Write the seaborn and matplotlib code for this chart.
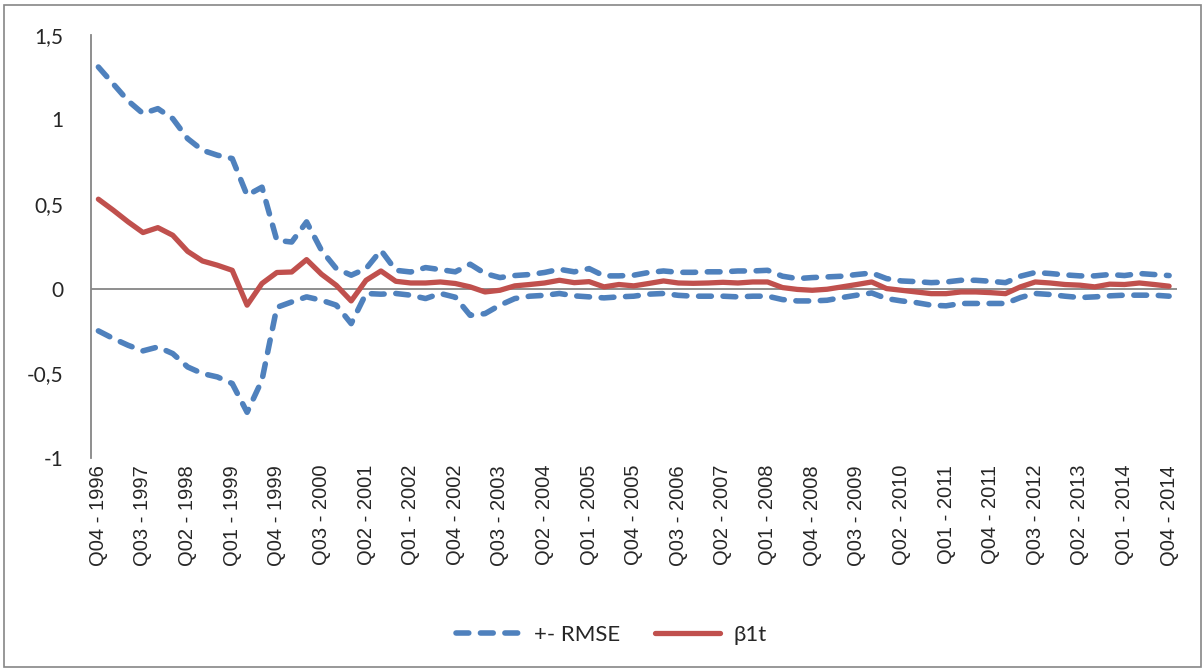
#!/usr/bin/env python3
import pandas as pd
import seaborn as sns
import matplotlib.pyplot as plt
from matplotlib.patches import Rectangle

# quarters Q4 1996 .. Q4 2014
quarters = [f"Q0{q} - {y}" for y in range(1996, 2015) for q in range(1, 5)][3:]

beta = [0.529, 0.464, 0.395, 0.332, 0.361, 0.316, 0.221, 0.164, 0.139, 0.109,
        -0.097, 0.031, 0.096, 0.099, 0.172, 0.086, 0.020, -0.072, 0.050, 0.105,
        0.044, 0.034, 0.034, 0.040, 0.031, 0.011, -0.019, -0.009, 0.017, 0.025,
        0.034, 0.050, 0.036, 0.042, 0.011, 0.025, 0.017, 0.031, 0.046, 0.034,
        0.032, 0.034, 0.038, 0.034, 0.040, 0.040, 0.007, -0.004, -0.009, -0.003,
        0.011, 0.025, 0.040, 0.001, -0.009, -0.019, -0.029, -0.029, -0.019, -0.019,
        -0.023, -0.029, 0.011, 0.040, 0.034, 0.025, 0.021, 0.011, 0.027, 0.025,
        0.034, 0.025, 0.015]

upper = [1.31, 1.21, 1.11, 1.035, 1.064, 1.005, 0.887, 0.818, 0.789, 0.769,
         0.552, 0.60, 0.286, 0.276, 0.395, 0.227, 0.119, 0.080, 0.119, 0.227,
         0.109, 0.099, 0.125, 0.113, 0.100, 0.145, 0.090, 0.066, 0.078, 0.084,
         0.096, 0.115, 0.100, 0.119, 0.076, 0.076, 0.080, 0.096, 0.105, 0.097,
         0.097, 0.100, 0.100, 0.105, 0.105, 0.109, 0.074, 0.060, 0.066, 0.070,
         0.074, 0.084, 0.093, 0.060, 0.046, 0.042, 0.036, 0.040, 0.050, 0.050,
         0.044, 0.036, 0.074, 0.096, 0.090, 0.082, 0.076, 0.076, 0.084, 0.078,
         0.090, 0.084, 0.078]

lower = [-0.249, -0.294, -0.334, -0.367, -0.344, -0.383, -0.462, -0.501, -0.521, -0.560,
         -0.730, -0.540, -0.110, -0.078, -0.048, -0.068, -0.097, -0.206, -0.028, -0.032,
         -0.028, -0.038, -0.058, -0.028, -0.050, -0.157, -0.147, -0.097, -0.058, -0.044,
         -0.039, -0.028, -0.042, -0.048, -0.054, -0.048, -0.044, -0.032, -0.028, -0.039,
         -0.044, -0.044, -0.044, -0.048, -0.044, -0.044, -0.064, -0.072, -0.072, -0.068,
         -0.052, -0.038, -0.025, -0.058, -0.072, -0.082, -0.097, -0.101, -0.087, -0.087,
         -0.087, -0.087, -0.052, -0.028, -0.034, -0.044, -0.052, -0.048, -0.042, -0.038,
         -0.038, -0.038, -0.044]

y_ticks = [-1, -0.5, 0, 0.5, 1, 1.5]
y_tick_labels = ["-1", "-0,5", "0", "0,5", "1", "1,5"]

BLUE = "#4F81BD"
RED = "#C0504D"
AXIS = "#868686"


def main():
    df = pd.DataFrame({"t": range(len(quarters)), "quarter": quarters,
                       "beta": beta, "upper": upper, "lower": lower})

    sns.set_style("white")
    plt.rcParams["font.family"] = ["Lato", "DejaVu Sans"]

    fig = plt.figure(figsize=(12.03, 6.70), dpi=100)
    ax = fig.add_axes([0.0756, 0.3164, 0.9024, 0.6316])

    dash = dict(lw=4.0, color=BLUE, linestyle=(0, (2.3, 2.1)),
                dash_capstyle="round", solid_capstyle="round")
    sns.lineplot(data=df, x="t", y="upper", ax=ax, label="+- RMSE", **dash)
    sns.lineplot(data=df, x="t", y="lower", ax=ax, label="_nolegend_", **dash)
    sns.lineplot(data=df, x="t", y="beta", ax=ax, label="β1t",
                 lw=3.8, color=RED, solid_capstyle="round", solid_joinstyle="round")

    ax.axhline(0, color=AXIS, lw=1.3, zorder=1)
    ax.set_xlim(-0.5, len(quarters) - 0.5)
    ax.set_ylim(-1, 1.5)
    ax.set_yticks(y_ticks)
    ax.set_yticklabels(y_tick_labels, fontsize=15)
    ax.set_xticks(df["t"][::3])
    ax.set_xticklabels(df["quarter"][::3], rotation=90, fontsize=14.5,
                       family="Liberation Sans")
    ax.tick_params(axis="y", length=0, pad=20)
    ax.tick_params(axis="x", length=0, pad=5)
    ax.set_xlabel("")
    ax.set_ylabel("")
    for side in ["top", "right", "bottom"]:
        ax.spines[side].set_visible(False)
    ax.spines["left"].set_color(AXIS)
    ax.spines["left"].set_linewidth(1.3)

    ax.get_legend().remove()
    handles, labels = ax.get_legend_handles_labels()
    fig.legend(handles, labels, loc="center", bbox_to_anchor=(0.508, 0.052),
               ncol=2, frameon=False, fontsize=16, handlelength=2.9,
               columnspacing=1.6, handletextpad=0.6)

    # partially cut title at the top edge, as in the source chart
    fig.text(0.677, 0.994, r"$\beta_{1,t}$", ha="center", va="bottom", fontsize=16)
    fig.patches.append(Rectangle((0.003, 0.004), 0.995, 0.988, transform=fig.transFigure,
                                 fill=False, edgecolor=AXIS, lw=1.2))

    fig.savefig("out.png", dpi=100)


if __name__ == "__main__":
    main()
